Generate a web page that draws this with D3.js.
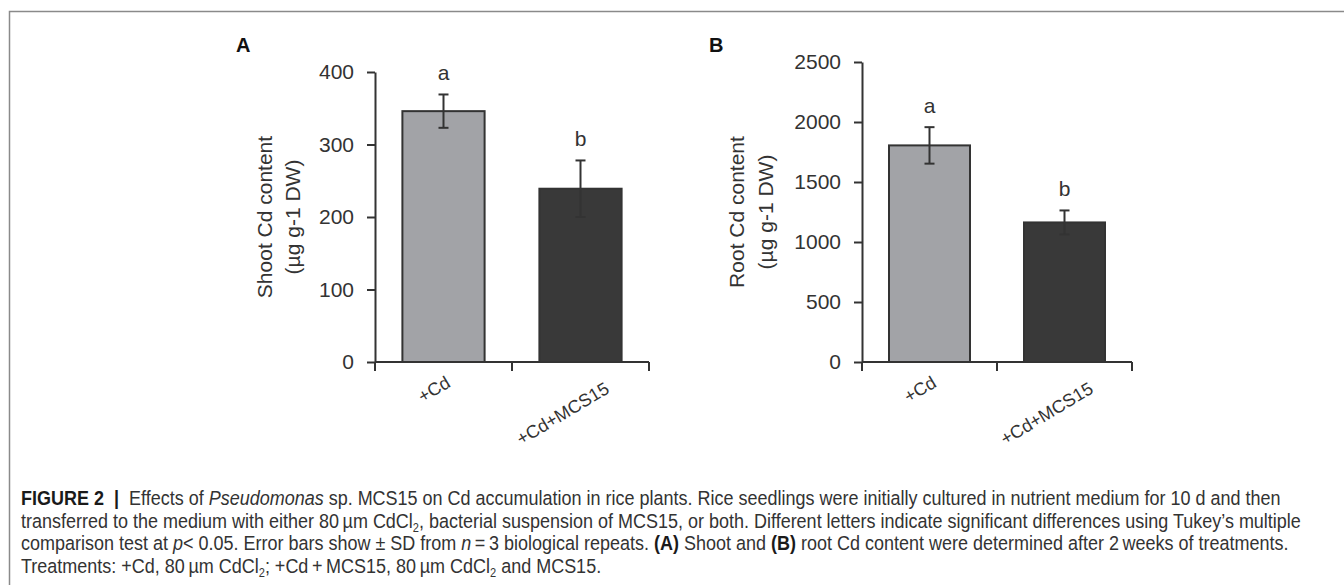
<!DOCTYPE html>
<html lang="en">
  <head>
    <meta charset='utf-8'>
    <script src='https://d3js.org/d3.v7.min.js'></script>
    <title>Cd accumulation in rice plants</title>
    <style>
      body {
        margin: 0px;
        background: #fff;
      }
      .tick text, .axis-label, .letter {
        fill: #333;
        font-family: 'Liberation Sans', Arial, sans-serif;
        font-size: 21px;
      }
      .cat-label {
        fill: #333;
        font-family: 'Liberation Sans', Arial, sans-serif;
        font-size: 18px;
      }
      .panel-label {
        fill: #111;
        font-family: 'Liberation Sans', Arial, sans-serif;
        font-size: 20px;
        font-weight: bold;
      }
      .caption {
        fill: #333;
        font-family: 'Liberation Sans', Arial, sans-serif;
        font-size: 19.5px;
      }
    </style>
  </head>
  <body>
    <svg id='chart' width='1344' height='585'></svg>
    <script>

      // data
      const categories = ['+Cd', '+Cd+MCS15'];
      const letters = ['a', 'b'];
      const barColors = ['#a2a3a7', '#393939'];

      const shootMean = [346, 239];
      const shootSD = [23, 39];
      const shootTicks = [0, 100, 200, 300, 400];

      const rootMean = [1805, 1163];
      const rootSD = [152, 100];
      const rootTicks = [0, 500, 1000, 1500, 2000, 2500];

      const svg = d3.select('#chart');

      // outer frame (only top and left edges show)
      svg.append('path')
        .attr('d', 'M9.5,600 V11.5 H1350')
        .attr('fill', 'none')
        .attr('stroke', '#8a8a8a')
        .attr('stroke-width', 1.5);

      // label placement for the rotated category names
      const catDx = [8, 30];
      const catDy = [24, 30];

      function panel(opts) {
        const g = svg.append('g');

        const x = d3.scaleBand()
          .domain(categories)
          .range([opts.left, opts.right])
          .padding(0);

        const y = d3.scaleLinear()
          .domain([0, d3.max(opts.ticks)])
          .range([362, opts.top]);

        const barW = x.bandwidth() * 0.6;

        const data = categories.map((c, i) => ({
          cat: c, mean: opts.mean[i], sd: opts.sd[i], letter: letters[i], color: barColors[i]
        }));

        // bars
        g.selectAll('rect.bar')
          .data(data)
          .enter().append('rect')
            .attr('class', 'bar')
            .attr('x', d => x(d.cat) + (x.bandwidth() - barW) / 2)
            .attr('y', d => y(d.mean))
            .attr('width', barW)
            .attr('height', d => y(0) - y(d.mean))
            .attr('fill', d => d.color)
            .attr('stroke', '#333')
            .attr('stroke-width', 2);

        // error bars
        const eb = g.selectAll('g.err')
          .data(data)
          .enter().append('g')
            .attr('class', 'err')
            .attr('stroke', '#333')
            .attr('stroke-width', 2);
        const cx = d => x(d.cat) + x.bandwidth() / 2;
        eb.append('line')
          .attr('x1', cx).attr('x2', cx)
          .attr('y1', d => y(d.mean + d.sd))
          .attr('y2', d => y(d.mean - d.sd));
        eb.append('line')
          .attr('x1', d => cx(d) - 5).attr('x2', d => cx(d) + 5)
          .attr('y1', d => y(d.mean + d.sd))
          .attr('y2', d => y(d.mean + d.sd));
        eb.append('line')
          .attr('x1', d => cx(d) - 5).attr('x2', d => cx(d) + 5)
          .attr('y1', d => y(d.mean - d.sd))
          .attr('y2', d => y(d.mean - d.sd));

        // significance letters
        g.selectAll('text.letter')
          .data(data)
          .enter().append('text')
            .attr('class', 'letter')
            .attr('x', cx)
            .attr('y', d => y(d.mean + d.sd) - 14)
            .attr('text-anchor', 'middle')
            .text(d => d.letter);

        // y axis
        const yAxis = d3.axisLeft(y)
          .tickValues(opts.ticks)
          .tickFormat(d3.format('d'))
          .tickSize(8)
          .tickSizeOuter(0)
          .tickPadding(13);
        const yAxisG = g.append('g')
          .attr('transform', `translate(${opts.left},0)`)
          .call(yAxis);
        yAxisG.selectAll('path, line')
          .attr('stroke', '#333')
          .attr('stroke-width', 2);
        yAxisG.selectAll('text')
          .attr('font-size', null)
          .attr('font-family', null);

        // x axis line with boundary ticks
        g.append('line')
          .attr('x1', opts.left).attr('x2', x.range()[1])
          .attr('y1', y(0)).attr('y2', y(0))
          .attr('stroke', '#333')
          .attr('stroke-width', 2);
        const bounds = categories.map(c => x(c)).concat(x.range()[1]);
        g.selectAll('line.xtick')
          .data(bounds)
          .enter().append('line')
            .attr('class', 'xtick')
            .attr('x1', d => d).attr('x2', d => d)
            .attr('y1', y(0)).attr('y2', y(0) + 9)
            .attr('stroke', '#333')
            .attr('stroke-width', 2);

        // rotated category labels
        g.selectAll('text.cat-label')
          .data(data)
          .enter().append('text')
            .attr('class', 'cat-label')
            .attr('text-anchor', 'end')
            .attr('transform', (d, i) => `translate(${cx(d) + catDx[i]},${y(0) + catDy[i]}) rotate(-31)`)
            .text(d => d.cat);

        // y axis title, two lines
        const yMid = (y(0) + y.range()[1]) / 2;
        opts.title.forEach((t, i) => {
          g.append('text')
            .attr('class', 'axis-label')
            .attr('text-anchor', 'middle')
            .attr('transform', `translate(${opts.titleX[i]},${yMid}) rotate(-90)`)
            .attr('dy', '0.35em')
            .text(t);
        });

        // panel letter
        g.append('text')
          .attr('class', 'panel-label')
          .attr('x', opts.labelX)
          .attr('y', 52)
          .text(opts.label);
      }

      panel({
        label: 'A', labelX: 236,
        left: 375, right: 649, top: 72,
        mean: shootMean, sd: shootSD, ticks: shootTicks,
        title: ['Shoot Cd content', '(\u00b5g g-1 DW)'], titleX: [265, 293]
      });

      panel({
        label: 'B', labelX: 709,
        left: 862, right: 1132, top: 62,
        mean: rootMean, sd: rootSD, ticks: rootTicks,
        title: ['Root Cd content', '(\u00b5g g-1 DW)'], titleX: [737, 766]
      });

      // caption
      const ts = '\u2009';
      const captionLines = [
        [['FIGURE 2', 'b'], ['  |  ', 'b'], ['Effects of '], ['Pseudomonas', 'i'],
         [' sp. MCS15 on Cd accumulation in rice plants. Rice seedlings were initially cultured in nutrient medium for 10 d and then']],
        [['transferred to the medium with either 80' + ts + '\u00b5m CdCl'], ['2', 's'],
         [', bacterial suspension of MCS15, or both. Different letters indicate significant differences using Tukey\u2019s multiple']],
        [['comparison test at '], ['p', 'i'], ['< 0.05. Error bars show \u00b1 SD from '], ['n', 'i'],
         [ts + '=' + ts + '3 biological repeats. '], ['(A)', 'b'], [' Shoot and '], ['(B)', 'b'],
         [' root Cd content were determined after 2' + ts + 'weeks of treatments.']],
        [['Treatments: +Cd, 80' + ts + '\u00b5m CdCl'], ['2', 's'], ['; +Cd' + ts + '+' + ts + 'MCS15, 80' + ts + '\u00b5m CdCl'],
         ['2', 's'], [' and MCS15.']]
      ];
      const captionY = [505, 528, 550, 573];

      const capG = svg.append('g');
      const lineNodes = captionLines.map((parts) => {
        const t = capG.append('text')
          .attr('class', 'caption')
          .attr('x', 0)
          .attr('y', 0)
          .attr('xml:space', 'preserve');
        let sub = false;
        parts.forEach(p => {
          const span = t.append('tspan').text(p[0]);
          if (p[1] === 'b') span.attr('font-weight', 'bold').attr('fill', '#1a1a1a');
          if (p[1] === 'i') span.attr('font-style', 'italic');
          if (p[1] === 's') span.attr('font-size', '12px').attr('dy', 4);
          else if (sub) span.attr('dy', -4);
          sub = p[1] === 's';
        });
        return t;
      });

      // one common horizontal squeeze, fitted on the second (full) line
      const w2 = lineNodes[1].node().getComputedTextLength();
      const sx = (1302 - 21) / w2;
      lineNodes.forEach((t, i) => {
        t.attr('transform', `translate(21,${captionY[i]}) scale(${sx},1)`);
      });

    </script>
  </body>
</html>
